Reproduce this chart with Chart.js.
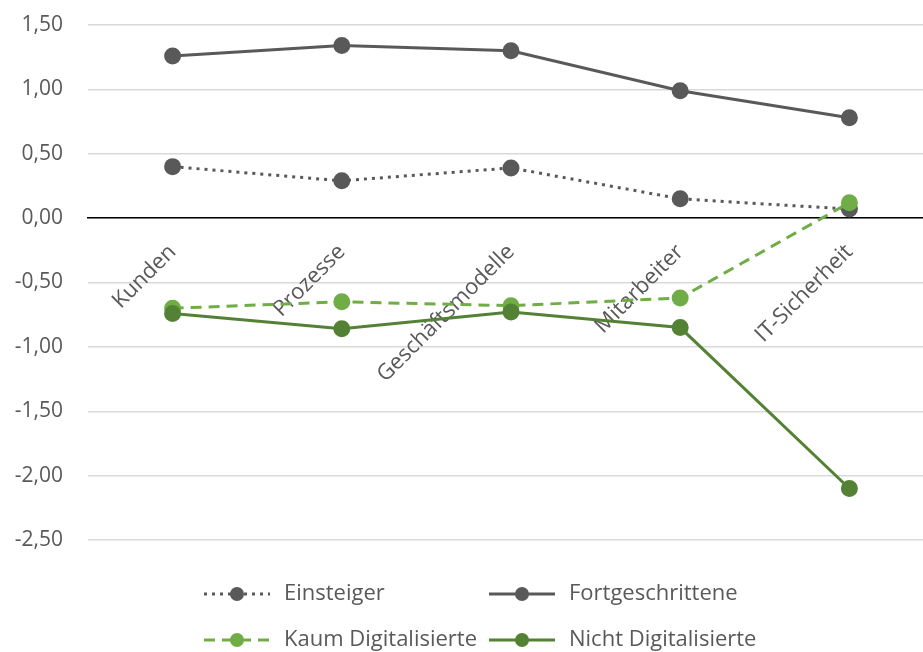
<!DOCTYPE html>
<html>
<head>
<meta charset="utf-8">
<script src="https://cdn.jsdelivr.net/npm/chart.js@4.4.1/dist/chart.umd.min.js"></script>
<style>
    html, body { margin: 0; padding: 0; background: #fff; overflow: hidden; }
    canvas { display: block; }
</style>
</head>
<body>
<canvas id="lineChart" width="944" height="652"></canvas>
<script>
// Dados do gráfico
const categories = ['Kunden', 'Prozesse', 'Geschäftsmodelle', 'Mitarbeiter', 'IT-Sicherheit'];
const einsteiger = [0.40, 0.29, 0.39, 0.15, 0.07];
const fortgeschrittene = [1.26, 1.34, 1.30, 0.99, 0.78];
const kaumDigitalisierte = [-0.70, -0.65, -0.68, -0.62, 0.12];
const nichtDigitalisierte = [-0.74, -0.86, -0.73, -0.85, -2.10];
const yTickValues = [1.5, 1.0, 0.5, 0, -0.5, -1.0, -1.5, -2.0, -2.5];

const textColor = '#595959';
Chart.defaults.font.family = '"Open Sans", sans-serif';

function makeDataset(label, data, color, dash, order) {
    return {
        label: label,
        data: data,
        borderColor: color,
        backgroundColor: color,
        pointBackgroundColor: color,
        pointBorderColor: color,
        borderWidth: 3,
        borderDash: dash,
        pointRadius: 7,
        pointHoverRadius: 7,
        tension: 0,
        fill: false,
        order: order
    };
}

// Legenda no estilo do Excel (linha + marcador), em duas colunas
const excelLegend = {
    id: 'excelLegend',
    afterDraw(chart) {
        const ctx = chart.ctx;
        const cols = [204, 489];
        const rows = [594, 640];
        chart.data.datasets.forEach((ds, i) => {
            const x = cols[i % 2];
            const y = rows[Math.floor(i / 2)];
            ctx.save();
            ctx.strokeStyle = ds.borderColor;
            ctx.lineWidth = ds.borderWidth;
            ctx.setLineDash(ds.borderDash || []);
            ctx.beginPath();
            ctx.moveTo(x, y);
            ctx.lineTo(x + 66, y);
            ctx.stroke();
            ctx.setLineDash([]);
            ctx.fillStyle = ds.pointBackgroundColor;
            ctx.beginPath();
            ctx.arc(x + 33, y, 7, 0, Math.PI * 2);
            ctx.fill();
            ctx.fillStyle = textColor;
            ctx.font = '22px "Open Sans", sans-serif';
            ctx.textBaseline = 'middle';
            ctx.fillText(ds.label, x + 80, y);
            ctx.restore();
        });
    }
};

const config = {
    type: 'line',
    data: {
        labels: categories,
        datasets: [
            makeDataset('Einsteiger', einsteiger, '#595959', [3, 5], 4),
            makeDataset('Fortgeschrittene', fortgeschrittene, '#595959', [], 3),
            makeDataset('Kaum Digitalisierte', kaumDigitalisierte, '#70AD47', [11, 7], 2),
            makeDataset('Nicht Digitalisierte', nichtDigitalisierte, '#548235', [], 1)
        ]
    },
    options: {
        responsive: false,
        animation: false,
        layout: {
            padding: { left: 10, right: 7, top: 25, bottom: 112 }
        },
        plugins: {
            legend: { display: false },
            tooltip: { enabled: false }
        },
        scales: {
            x: {
                type: 'category',
                offset: true,
                position: { y: 0 },
                grid: { display: false, drawTicks: false },
                border: { display: true, color: '#000000', width: 1.5 },
                ticks: {
                    autoSkip: false,
                    maxRotation: 45,
                    minRotation: 45,
                    padding: 21,
                    color: textColor,
                    font: { size: 22 }
                }
            },
            y: {
                min: -2.5,
                max: 1.5,
                afterBuildTicks: function(scale) {
                    scale.ticks = yTickValues.map(v => ({ value: v }));
                },
                afterFit: function(scale) {
                    scale.width = 78;
                    scale.paddingTop = 12;
                    scale.paddingBottom = 12;
                },
                grid: { color: '#d9d9d9', lineWidth: 1.5, drawTicks: false },
                border: { display: false },
                ticks: {
                    padding: 25,
                    color: textColor,
                    font: { size: 21 },
                    callback: function(value) {
                        return Number(value).toFixed(2).replace('.', ',');
                    }
                }
            }
        }
    },
    plugins: [excelLegend]
};

new Chart(document.getElementById('lineChart'), config);
</script>
</body>
</html>
